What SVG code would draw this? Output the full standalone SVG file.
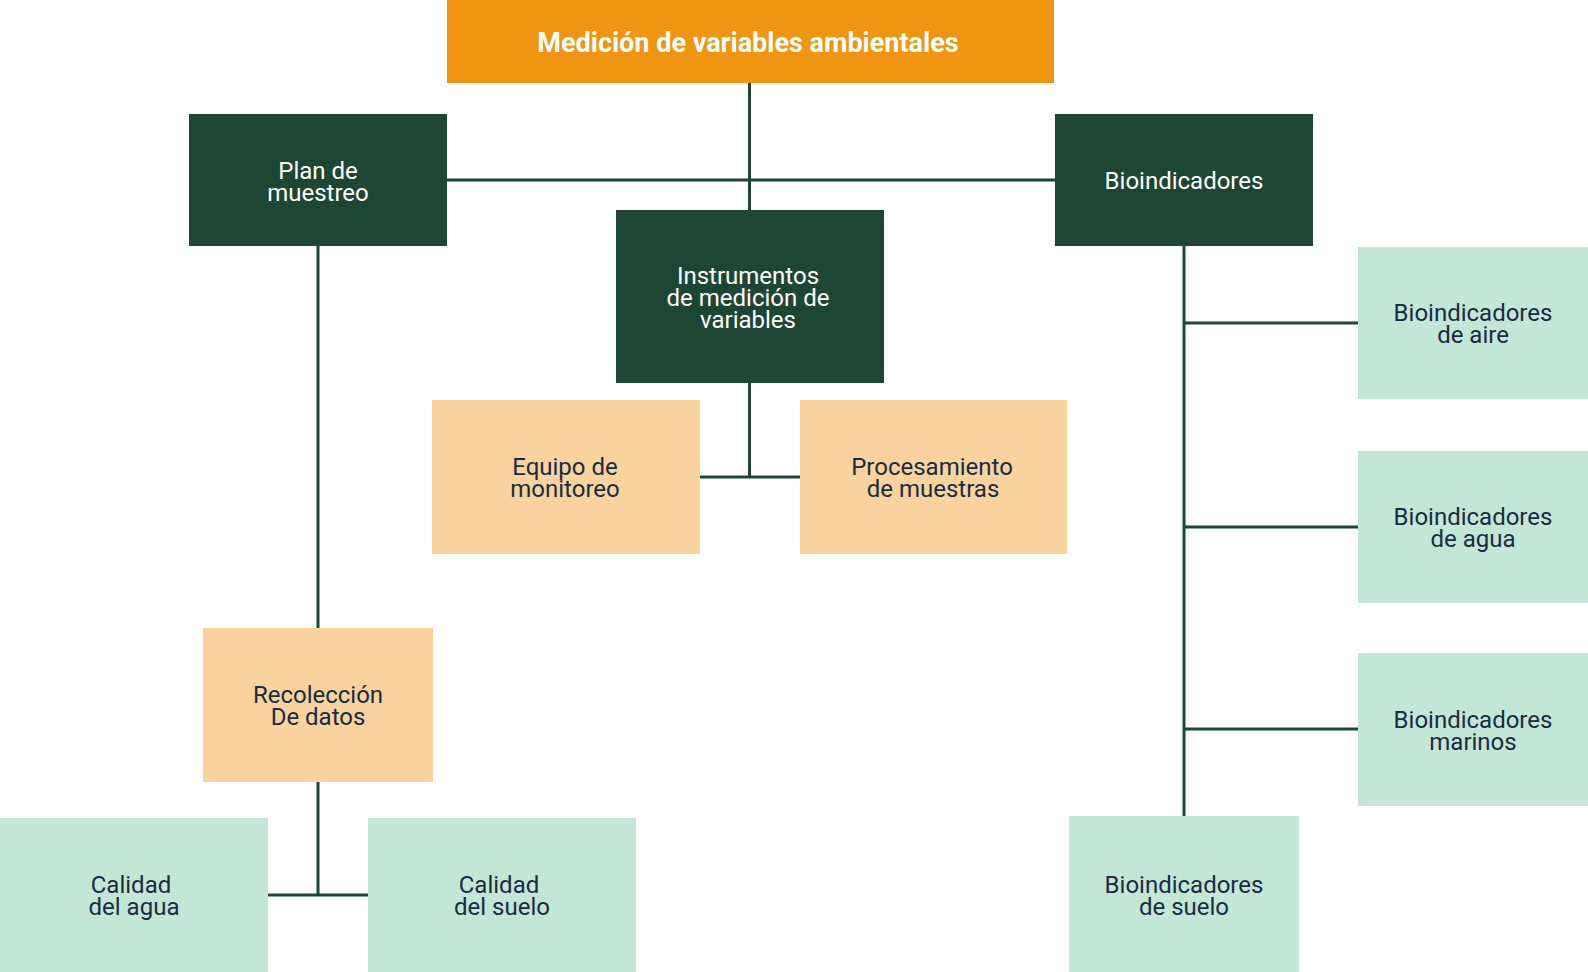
<svg xmlns="http://www.w3.org/2000/svg" width="1588" height="972" viewBox="0 0 1588 972">
<style>
.orange{fill:#F09511}
.dark{fill:#1D4634}
.peach{fill:#F8D39E}
.mint{fill:#C3E7D7}
text{font-family:Roboto,"Liberation Sans",sans-serif;font-size:24px;text-anchor:middle}
.w{fill:#FFFFFF}
.n{fill:#1A2B42}
.title{font-size:27px;font-weight:bold;fill:#FFFFFF}
#connectors line{stroke:#1D4634;stroke-width:3;fill:none}
</style>
<rect width="1588" height="972" fill="#FFFFFF"/>
<g id="connectors">
<line x1="749.5" y1="83" x2="749.5" y2="211"/>
<line x1="447" y1="180" x2="1055" y2="180"/>
<line x1="318" y1="246" x2="318" y2="628"/>
<line x1="318" y1="782" x2="318" y2="895"/>
<line x1="267" y1="895" x2="368" y2="895"/>
<line x1="749.5" y1="383" x2="749.5" y2="477"/>
<line x1="700" y1="477" x2="800" y2="477"/>
<line x1="1184" y1="246" x2="1184" y2="816"/>
<line x1="1184" y1="323" x2="1358" y2="323"/>
<line x1="1184" y1="527" x2="1358" y2="527"/>
<line x1="1184" y1="729" x2="1358" y2="729"/>
</g>
<g id="n-title">
<rect class="orange" x="447" y="0" width="607" height="83"/>
<text class="title" x="748" y="52">Medición de variables ambientales</text>
</g>
<g id="n-plan">
<rect class="dark" x="189" y="114" width="258" height="132"/>
<text class="w" x="318" y="179">Plan de</text>
<text class="w" x="318" y="201">muestreo</text>
</g>
<g id="n-bio">
<rect class="dark" x="1055" y="114" width="258" height="132"/>
<text class="w" x="1184" y="189">Bioindicadores</text>
</g>
<g id="n-instr">
<rect class="dark" x="616" y="210" width="268" height="173"/>
<text class="w" x="748" y="284">Instrumentos</text>
<text class="w" x="748" y="306">de medición de</text>
<text class="w" x="748" y="328">variables</text>
</g>
<g id="n-equipo">
<rect class="peach" x="432" y="400" width="268" height="154"/>
<text class="n" x="565" y="475">Equipo de</text>
<text class="n" x="565" y="497">monitoreo</text>
</g>
<g id="n-proc">
<rect class="peach" x="800" y="400" width="267" height="154"/>
<text class="n" x="932" y="475">Procesamiento</text>
<text class="n" x="933" y="497">de muestras</text>
</g>
<g id="n-recol">
<rect class="peach" x="203" y="628" width="230" height="154"/>
<text class="n" x="318" y="703">Recolección</text>
<text class="n" x="318" y="725">De datos</text>
</g>
<g id="n-cal-agua">
<rect class="mint" x="0" y="818" width="268" height="154"/>
<text class="n" x="131" y="893">Calidad</text>
<text class="n" x="134" y="915">del agua</text>
</g>
<g id="n-cal-suelo">
<rect class="mint" x="368" y="818" width="268" height="154"/>
<text class="n" x="499" y="893">Calidad</text>
<text class="n" x="502" y="915">del suelo</text>
</g>
<g id="n-bio-aire">
<rect class="mint" x="1358" y="247" width="230" height="152"/>
<text class="n" x="1473" y="321">Bioindicadores</text>
<text class="n" x="1473" y="343">de aire</text>
</g>
<g id="n-bio-agua">
<rect class="mint" x="1358" y="451" width="230" height="152"/>
<text class="n" x="1473" y="525">Bioindicadores</text>
<text class="n" x="1473" y="547">de agua</text>
</g>
<g id="n-bio-mar">
<rect class="mint" x="1358" y="653" width="230" height="153"/>
<text class="n" x="1473" y="728">Bioindicadores</text>
<text class="n" x="1473" y="750">marinos</text>
</g>
<g id="n-bio-suelo">
<rect class="mint" x="1069" y="816" width="230" height="156"/>
<text class="n" x="1184" y="893">Bioindicadores</text>
<text class="n" x="1184" y="915">de suelo</text>
</g>
</svg>
